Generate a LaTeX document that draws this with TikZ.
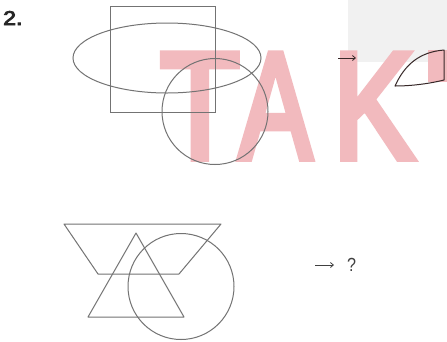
\documentclass[tikz,border=0pt]{standalone}
\usepackage{fontspec}
\setmainfont{Liberation Sans}
\newfontfamily\wmfont{Liberation Sans}[UprightFeatures={FakeBold=5}]
\newfontfamily\numfont{Liberation Sans}[UprightFeatures={FakeBold=4}]
\usetikzlibrary{arrows.meta}
\definecolor{wmpink}{RGB}{242,186,190}
\definecolor{wmgray}{RGB}{241,241,241}
\definecolor{linegray}{RGB}{115,115,115}
\definecolor{darkline}{RGB}{55,40,40}
\begin{document}
\begin{tikzpicture}[x=1pt,y=-1pt,
  figline/.style={draw=linegray, line width=1pt},
  wm/.style={text=wmpink, inner sep=0pt, anchor=base west,
    font=\wmfont\fontsize{151}{151}\selectfont},
  arr/.style={draw=darkline, line width=0.8pt, -{Straight Barb[length=3pt,width=5pt]}}]
\useasboundingbox (0,0) rectangle (447,341);
\fill[white] (0,0) rectangle (447,341);
% watermark background
\fill[wmgray] (348,0) rectangle (447,62);
\node[wm, xscale=0.86] (wT) at (160,158) {T};
\node[wm, xscale=0.72] (wA) at (239,158) {A};
\node[wm, xscale=0.80] (wK) at (333,158) {K};
\fill[wmpink] (428,50) rectangle (447,82);
% number
\node[inner sep=0pt, anchor=base west, text=black!85, xscale=1.15,
  font=\numfont\fontsize{20}{20}\selectfont] (num) at (3,25) {2.};
% top figure
\draw[figline] (110,6) rectangle (215,112);
\draw[figline] (167,58) ellipse [x radius=94, y radius=35];
\draw[figline] (215,111.5) circle [radius=53];
% top answer
\coordinate (a1s) at (338,58);
\coordinate (a1e) at (356,58);
\draw[arr] (a1s) -- (a1e);
\coordinate (p1) at (395,86);
\coordinate (p2) at (444,50);
\coordinate (p3) at (444,80);
\draw[draw=darkline, line width=1pt, line join=round]
  (p1) .. controls (405,64) and (420,52) .. (p2) -- (p3) .. controls (428,84) and (410,86) .. (p1) -- cycle;
% bottom figure
\draw[figline, line join=round] (64,224) -- (221,224) -- (179,274) -- (98,274) -- cycle;
\draw[figline, line join=round] (136,233) -- (88,317) -- (184,317) -- cycle;
\draw[figline] (181,286.5) circle [radius=53];
% bottom answer
\coordinate (a2s) at (315,265);
\coordinate (a2e) at (334,265);
\draw[arr, draw=black!75] (a2s) -- (a2e);
\node[inner sep=0pt, anchor=base west, text=black!75, xscale=0.85,
  font=\fontsize{19}{19}\selectfont] (q) at (347,271) {?};
\end{tikzpicture}
\end{document}
